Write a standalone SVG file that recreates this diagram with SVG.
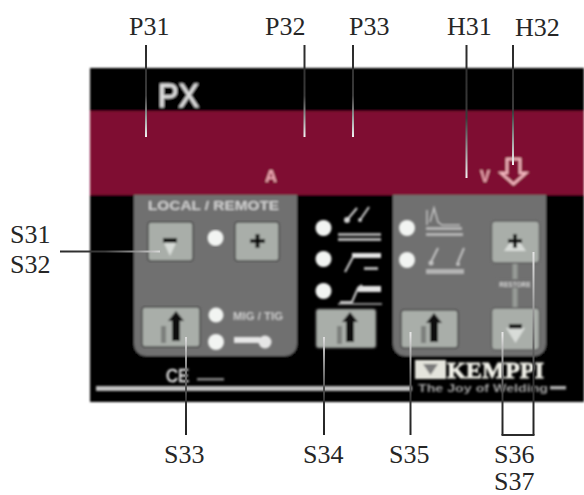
<svg xmlns="http://www.w3.org/2000/svg" width="584" height="495" viewBox="0 0 584 495">
<style>
.lab{font-family:"Liberation Serif","Times New Roman",serif;font-size:26px;fill:#262626}
.pan{font-family:"Liberation Sans",Arial,sans-serif;font-weight:700;fill:#d0d0d0}
.btn{fill:#a9aea9;stroke:#4a4a4a;stroke-width:1.5}
.led{fill:#f2f4f2}
.pnl{fill:#6f6f6f}
.ic{fill:none;stroke:#d4d4d4;stroke-width:2}
.tiny{fill:#b4b4b4}
.ln{fill:none;stroke-width:2}
</style>
<defs>
<filter id="b" x="-5%" y="-5%" width="110%" height="110%"><feGaussianBlur stdDeviation="1"/></filter>
<linearGradient id="gP" gradientUnits="userSpaceOnUse" x1="0" y1="45" x2="0" y2="137"><stop offset="0" stop-color="#2b2b2b"/><stop offset="0.55" stop-color="#3a3a3a"/><stop offset="1" stop-color="#f4f4f4"/></linearGradient>
<linearGradient id="gH1" gradientUnits="userSpaceOnUse" x1="0" y1="45" x2="0" y2="178"><stop offset="0" stop-color="#2b2b2b"/><stop offset="0.55" stop-color="#3a3a3a"/><stop offset="1" stop-color="#f4f4f4"/></linearGradient>
<linearGradient id="gH2" gradientUnits="userSpaceOnUse" x1="0" y1="45" x2="0" y2="165"><stop offset="0" stop-color="#2b2b2b"/><stop offset="0.55" stop-color="#3a3a3a"/><stop offset="1" stop-color="#f4f4f4"/></linearGradient>
<linearGradient id="gS" gradientUnits="userSpaceOnUse" x1="60" y1="0" x2="160" y2="0"><stop offset="0" stop-color="#2b2b2b"/><stop offset="0.45" stop-color="#3a3a3a"/><stop offset="1" stop-color="#d8d8d8"/></linearGradient>
<linearGradient id="gU" gradientUnits="userSpaceOnUse" x1="0" y1="435" x2="0" y2="335"><stop offset="0" stop-color="#222"/><stop offset="0.35" stop-color="#333"/><stop offset="0.7" stop-color="#8a8a8a"/><stop offset="1" stop-color="#e4e4e4"/></linearGradient>
<linearGradient id="gU2" gradientUnits="userSpaceOnUse" x1="0" y1="435" x2="0" y2="252"><stop offset="0" stop-color="#222"/><stop offset="0.3" stop-color="#333"/><stop offset="0.55" stop-color="#777"/><stop offset="1" stop-color="#e4e4e4"/></linearGradient>
</defs>

<g id="panel" filter="url(#b)">
<rect x="90" y="68" width="494" height="334" fill="#000"/>
<rect x="90" y="111" width="494" height="84" fill="#7f0f33"/>
<text x="158" y="107" class="pan" font-size="33" style="fill:#dedede;font-weight:400" stroke="#dedede" stroke-width="0.8" textLength="41" lengthAdjust="spacingAndGlyphs">PX</text>
<text x="265" y="182" class="pan" font-size="17" style="fill:#eeaab4" textLength="12" lengthAdjust="spacingAndGlyphs">A</text>
<text x="480" y="182" class="pan" font-size="17" style="fill:#eeaab4" textLength="10" lengthAdjust="spacingAndGlyphs">V</text>
<path id="h32-arrow" d="M507 159h13v14h6l-12.500 11-12.500-11h6z" fill="none" stroke="#f2b6bd" stroke-width="2.500"/>
<path d="M134 195H297V344a12 12 0 0 1-12 12H146a12 12 0 0 1-12-12Z" class="pnl"/>
<path d="M393 195H546V344a12 12 0 0 1-12 12H405a12 12 0 0 1-12-12Z" class="pnl"/>
<text x="148" y="210" class="pan" font-size="13.500" textLength="131" lengthAdjust="spacingAndGlyphs">LOCAL / REMOTE</text>
</g>

<g id="s31-button" filter="url(#b)"><rect x="148" y="222" width="45" height="39" rx="3" class="btn"/><path d="M164 243h12l-6 13z" fill="#d8dcd8"/><rect x="163" y="238" width="14" height="4.500" fill="#111"/></g>
<g id="local-led" filter="url(#b)"><circle cx="215.500" cy="238" r="8" class="led"/></g>
<g id="s32-button" filter="url(#b)"><rect x="235" y="222" width="44" height="39" rx="3" class="btn"/><path d="M250 241h15M257.500 234v14" stroke="#111" stroke-width="4"/></g>

<g id="s33-button" filter="url(#b)"><rect x="142" y="307" width="58" height="40" rx="3" class="btn"/><path d="M176 311l8 10h-4v20h-8v-20h-4z" fill="#0a0a0a"/><rect x="161" y="326" width="5" height="17" fill="#7d807d"/></g>
<g id="mig-tig" filter="url(#b)"><circle cx="216" cy="315" r="7.500" class="led"/><circle cx="216" cy="342" r="8" class="led"/><text x="233" y="320" class="pan" font-size="11" textLength="50" lengthAdjust="spacingAndGlyphs">MIG / TIG</text><rect x="234" y="337" width="26" height="6" fill="#e6e6e6"/><circle cx="265" cy="342" r="6.500" fill="#e6e6e6"/></g>

<g id="s34-group" filter="url(#b)">
<circle cx="323.500" cy="228" r="8" class="led"/><circle cx="323.500" cy="259" r="8" class="led"/><circle cx="323.500" cy="291" r="8" class="led"/>
<path class="ic" d="M347 220l10-12M360 220l9-13"/><circle cx="347" cy="220" r="3" fill="#d4d4d4"/><circle cx="360" cy="220" r="2" fill="#d4d4d4"/>
<rect x="338" y="233" width="43" height="3" fill="#a8a8a8"/><rect x="338" y="238" width="43" height="3" class="tiny"/>
<rect x="352" y="253" width="29" height="5" fill="#e4e4e4"/><path class="ic" d="M345 272l8-15"/><rect x="364" y="267" width="14" height="3" class="tiny"/>
<rect x="358" y="286" width="23" height="6" fill="#e4e4e4"/><path class="ic" d="M340 302h12l6-14 4-3"/><rect x="338" y="303" width="44" height="2" fill="#8c8c8c"/>
<rect x="316" y="309" width="60" height="39" rx="3" class="btn"/><path d="M350 312l8 10h-4v20h-8v-20h-4z" fill="#0a0a0a"/><rect x="337" y="326" width="5" height="18" fill="#7d807d"/>
</g>

<g id="s35-group" filter="url(#b)">
<circle cx="407" cy="228" r="8" class="led"/><circle cx="407" cy="260" r="8" class="led"/>
<path class="ic" style="stroke-width:1.500;stroke:#c4c4c4" d="M427 225v-15M430 222l4-14 4 14 4 3h18"/>
<rect x="426" y="227" width="36" height="3" class="tiny"/><rect x="426" y="233" width="37" height="3" class="tiny"/>
<path class="ic" style="stroke:#c4c4c4" d="M431 262l7-14M458 262l6-14"/><circle cx="431" cy="263" r="2.500" fill="#c4c4c4"/><circle cx="458" cy="264" r="2" fill="#c4c4c4"/>
<rect x="426" y="269" width="38" height="5" class="tiny"/>
<rect x="401" y="310" width="57" height="38" rx="3" class="btn"/><path d="M434 313l8 10h-4v19h-8v-19h-4z" fill="#0a0a0a"/><rect x="421" y="326" width="5" height="17" fill="#7d807d"/>
</g>

<g id="s36-s37-group" filter="url(#b)">
<path d="M515 263v45" stroke="#979b97" stroke-width="5"/>
<rect x="497" y="279" width="36" height="9" fill="#6f6f6f"/>
<text x="515" y="286.500" text-anchor="middle" class="pan" font-size="6.500">RESTORE</text>
<rect x="491.500" y="221" width="48" height="42" rx="4" class="btn" style="stroke:#5c5c5c"/><path d="M504 251h22l-11-16z" fill="#d8dcd8"/><path d="M508 241h14M515 234v14" stroke="#111" stroke-width="4"/>
<rect x="491.500" y="308" width="48" height="42" rx="4" class="btn" style="stroke:#5c5c5c"/><path d="M506 328h19l-9.500 15z" fill="#d8dcd8"/><rect x="509" y="324" width="13" height="4.500" fill="#111"/>
</g>

<g id="footer" filter="url(#b)">
<text x="166" y="382" class="pan" font-size="19" style="fill:#e6e6e6;font-weight:400" stroke="#e6e6e6" stroke-width="0.6" textLength="23" lengthAdjust="spacingAndGlyphs">CE</text>
<rect x="197" y="378" width="27" height="2.500" fill="#8a8a8a"/>
<rect x="96" y="386" width="316" height="5" fill="#c2c2c2"/>
<rect x="415" y="360" width="31" height="19" fill="#e4e4dc"/><path d="M423 364h15l-7.500 11z" fill="#7a7a7a"/>
<text x="447" y="378" font-family="Liberation Serif,serif" font-weight="700" font-size="24" fill="#f0f0e8" stroke="#f0f0e8" stroke-width="0.8" textLength="97" lengthAdjust="spacingAndGlyphs">KEMPPI</text>
<text x="418" y="392" class="pan" font-size="10" textLength="130" lengthAdjust="spacingAndGlyphs" style="fill:#a4a4a4">The Joy of Welding</text>
<rect x="550" y="386" width="16" height="3.500" fill="#b0b0b0"/>
</g>

<g id="connectors">
<line class="ln" x1="146" y1="45" x2="146" y2="137" stroke="url(#gP)"/>
<line class="ln" x1="304.500" y1="45" x2="304.500" y2="137" stroke="url(#gP)"/>
<line class="ln" x1="353" y1="45" x2="353" y2="137" stroke="url(#gP)"/>
<line class="ln" x1="466.500" y1="45" x2="466.500" y2="178" stroke="url(#gH1)"/>
<line class="ln" x1="513" y1="45" x2="513" y2="165" stroke="url(#gH2)"/>
<line class="ln" x1="60" y1="251.500" x2="160" y2="251.500" stroke="url(#gS)"/>
<line class="ln" x1="186" y1="435" x2="186" y2="337" stroke="url(#gU)"/>
<line class="ln" x1="324" y1="435" x2="324" y2="337" stroke="url(#gU)"/>
<line class="ln" x1="410.500" y1="435" x2="410.500" y2="332" stroke="url(#gU)"/>
<line class="ln" x1="502.500" y1="435" x2="502.500" y2="332" stroke="url(#gU)"/>
<line class="ln" x1="533.500" y1="435" x2="533.500" y2="252" stroke="url(#gU2)"/>
<line class="ln" x1="501.500" y1="435" x2="534.500" y2="435" stroke="#2b2b2b"/>
</g>

<g id="labels">
<text class="lab" x="129" y="35">P31</text>
<text class="lab" x="265" y="35">P32</text>
<text class="lab" x="349" y="35">P33</text>
<text class="lab" x="447" y="35">H31</text>
<text class="lab" x="515" y="36">H32</text>
<text class="lab" x="10" y="243">S31</text>
<text class="lab" x="10" y="273">S32</text>
<text class="lab" x="164" y="463">S33</text>
<text class="lab" x="303" y="463">S34</text>
<text class="lab" x="389" y="463">S35</text>
<text class="lab" x="494" y="463">S36</text>
<text class="lab" x="494" y="489.500">S37</text>
</g>
</svg>
